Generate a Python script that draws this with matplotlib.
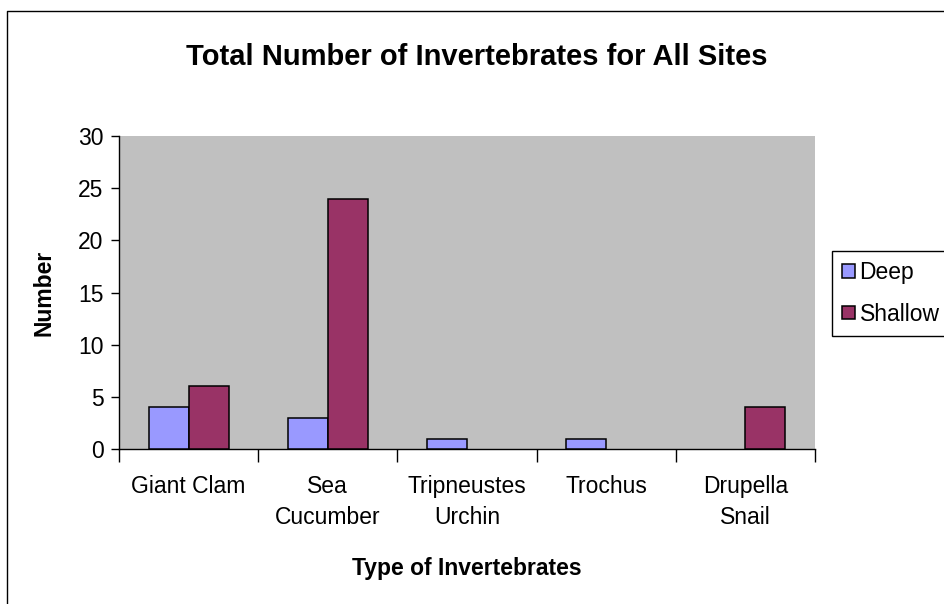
import numpy as np
import matplotlib.pyplot as plt
from matplotlib.lines import Line2D

# Invertebrate counts per survey depth
categories = ['Giant Clam', 'Sea\nCucumber', 'Tripneustes\nUrchin', 'Trochus', 'Drupella\nSnail']
deep = [4, 3, 1, 1, 0]
shallow = [6, 24, 0, 0, 4]

DEEP_COLOR = '#9999FF'
SHALLOW_COLOR = '#993366'
PLOT_BG = '#C0C0C0'
FS = 16.5

plt.rcParams['font.family'] = ['Liberation Sans', 'DejaVu Sans']

W, H = 944, 604
fig = plt.figure(figsize=(W / 100, H / 100), dpi=100)
fig.patch.set_facecolor('white')

ax = fig.add_axes([119 / W, 1 - 449 / H, (815 - 119) / W, (449 - 136) / H])
ax.set_facecolor(PLOT_BG)


def hide_zero(vals):
    # empty counts get no bar at all (not even a flat outline)
    v = np.asarray(vals, dtype=float)
    return np.where(v == 0, np.nan, v)


x = np.arange(len(categories))
bw = 0.2875
ax.bar(x - bw / 2, hide_zero(deep), bw, color=DEEP_COLOR, edgecolor='black', lw=1.1,
       label='Deep', zorder=3)
ax.bar(x + bw / 2, hide_zero(shallow), bw, color=SHALLOW_COLOR, edgecolor='black', lw=1.1,
       label='Shallow', zorder=3)

ax.set_xlim(-0.5, len(categories) - 0.5)
ax.set_ylim(0, 30)
ax.set_yticks(range(0, 31, 5))
ax.tick_params(axis='y', labelsize=FS, length=6, width=1, direction='out', pad=5)

# category names sit between the group boundary ticks
ax.set_xticks(x)
ax.set_xticklabels(categories, fontsize=FS, linespacing=1.42)
ax.tick_params(axis='x', length=0, pad=19)
ax.set_xticks(np.arange(-0.5, len(categories)), minor=True)
ax.tick_params(axis='x', which='minor', length=9, width=1, direction='out')

for side in ('top', 'right'):
    ax.spines[side].set_visible(False)
for side in ('left', 'bottom'):
    ax.spines[side].set_linewidth(1)

ax.set_ylabel('Number', fontsize=FS, fontweight='bold', labelpad=16)
ax.set_xlabel('Type of Invertebrates', fontsize=FS, fontweight='bold', labelpad=20)
fig.text(477 / W, 1 - 57 / H, 'Total Number of Invertebrates for All Sites',
         ha='center', va='center', fontsize=21, fontweight='bold')

leg = ax.legend(loc='upper left', bbox_to_anchor=(832 / W, 1 - 251 / H),
                bbox_transform=fig.transFigure, fontsize=FS, frameon=True,
                fancybox=False, edgecolor='black', framealpha=1,
                handlelength=0.55, handleheight=0.55, handletextpad=0.2,
                borderpad=0.45, labelspacing=0.8, borderaxespad=0)
leg.get_frame().set_linewidth(1)

# outer chart border (runs off the right and bottom edges)
fig.add_artist(Line2D([7 / W, 7 / W, 1.01], [-0.01, 1 - 11 / H, 1 - 11 / H],
                      transform=fig.transFigure, color='black', lw=1))

fig.savefig('out.png', dpi=100)
